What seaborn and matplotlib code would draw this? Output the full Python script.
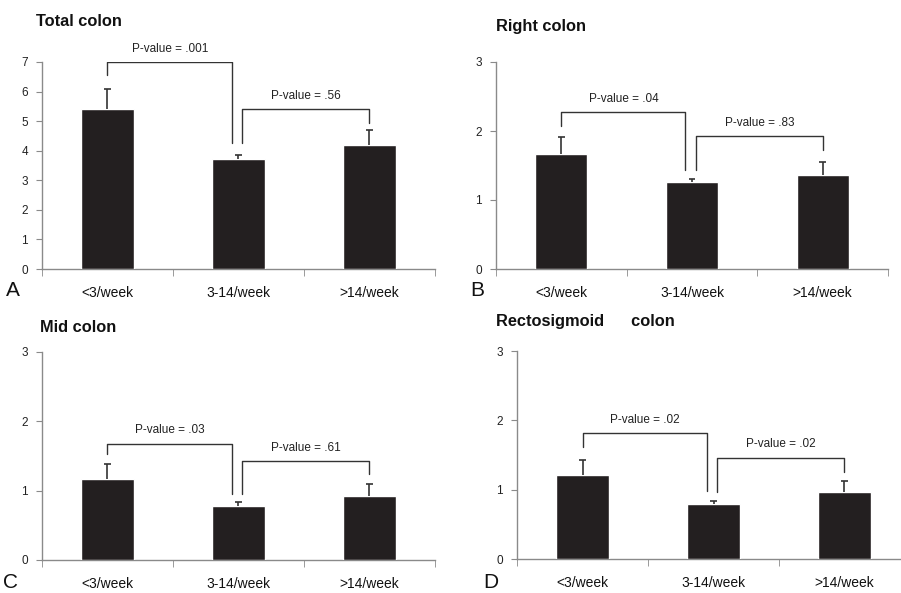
import numpy as np
import pandas as pd
import matplotlib
matplotlib.use("Agg")
import matplotlib.pyplot as plt
import seaborn as sns

# data
categories = ["<3/week", "3-14/week", ">14/week"]
titles = ["Total colon", "Right colon", "Mid colon", "Rectosigmoid      colon"]
letters = ["A", "B", "C", "D"]
ymax = [7, 3, 3, 3]

means_total = [5.41, 3.73, 4.18]
upper_total = [6.08, 3.84, 4.70]
means_right = [1.66, 1.26, 1.36]
upper_right = [1.91, 1.30, 1.55]
means_mid = [1.17, 0.78, 0.92]
upper_mid = [1.38, 0.83, 1.10]
means_recto = [1.21, 0.80, 0.96]
upper_recto = [1.43, 0.84, 1.12]

# p-value labels (first pair, second pair)
pvals_total = ["P-value = .001", "P-value = .56"]
pvals_right = ["P-value = .04", "P-value = .83"]
pvals_mid = ["P-value = .03", "P-value = .61"]
pvals_recto = ["P-value = .02", "P-value = .02"]

# bracket heights: [top, left leg end, right leg end] for each bracket
brk_total = [[7.0, 6.55, 4.25], [5.4, 4.25, 4.93]]
brk_right = [[2.27, 2.07, 1.43], [1.93, 1.43, 1.72]]
brk_mid = [[1.68, 1.53, 0.95], [1.43, 0.95, 1.24]]
brk_recto = [[1.82, 1.62, 0.98], [1.46, 0.97, 1.26]]

panels = [
    (means_total, upper_total, pvals_total, brk_total),
    (means_right, upper_right, pvals_right, brk_right),
    (means_mid, upper_mid, pvals_mid, brk_mid),
    (means_recto, upper_recto, pvals_recto, brk_recto),
]

sns.set_style("white")
plt.rcParams['font.family'] = ['Liberation Sans', 'DejaVu Sans']

W, H = 901, 593
fig = plt.figure(figsize=(9.01, 5.93), dpi=100)

# axes boxes in pixels: left, right, bottom, top
boxes = [(42, 435, 269, 62), (496, 888, 269, 62), (42, 435, 560, 352), (517, 910, 559, 351)]
title_pos = [(36, 22), (496, 26), (40, 327), (496, 321)]
letter_pos = [(6, 290), (470, 290), (3, 582), (483, 582)]

bar_color = "#231f20"
axis_color = "#8a8a8a"
bracket_x = [(0.0, 0.95), (1.03, 2.0)]

for i, (means, upper, pvals, brks) in enumerate(panels):
    l, r, b, t = boxes[i]
    ax = fig.add_axes([l / W, (H - b) / H, (r - l) / W, (b - t) / H])
    df = pd.DataFrame({"cat": categories, "val": means})
    sns.barplot(data=df, x="cat", y="val", color=bar_color, width=0.4,
                saturation=1, errorbar=None, ax=ax)
    # upper-only error bars with a small cap
    xs = np.arange(3)
    ax.vlines(xs, means, upper, color="#333333", lw=1.2)
    ax.hlines(upper, xs - 0.025, xs + 0.025, color="#333333", lw=1.2)

    # brackets
    for (x0, x1), (top, yl, yr), label in zip(bracket_x, brks, pvals):
        ax.plot([x0, x0, x1, x1], [yl, top, top, yr], color="#333333", lw=1)
        ax.text((x0 + x1) / 2, top + ymax[i] * 0.035, label, ha="center",
                va="bottom", fontsize=8.5, color="#222222")

    ax.set_xlim(-0.5, 2.5)
    ax.set_ylim(0, ymax[i])
    ax.set_yticks(range(0, ymax[i] + 1))
    ax.set_xlabel("")
    ax.set_ylabel("")
    ax.set_xticks([-0.5, 0.5, 1.5, 2.5], minor=True)
    ax.tick_params(axis="x", which="major", length=0, pad=12, labelsize=10, labelcolor="#111111")
    ax.tick_params(axis="x", which="minor", length=5, color=axis_color, direction="out", bottom=True)
    ax.tick_params(axis="y", length=4, color=axis_color, direction="out", left=True,
                   labelsize=8.5, labelcolor="#222222", pad=6)
    sns.despine(ax=ax)
    for s in ["left", "bottom"]:
        ax.spines[s].set_color(axis_color)
        ax.spines[s].set_linewidth(1)
    ax.spines["bottom"].set_zorder(0)

    tx, ty = title_pos[i]
    fig.text(tx / W, 1 - ty / H, titles[i], fontsize=11.8, fontweight="bold",
             ha="left", va="center", color="#111111")
    lx, ly = letter_pos[i]
    fig.text(lx / W, 1 - ly / H, letters[i], fontsize=15, ha="left", va="center",
             color="#111111")

fig.savefig("out.png", dpi=100)
